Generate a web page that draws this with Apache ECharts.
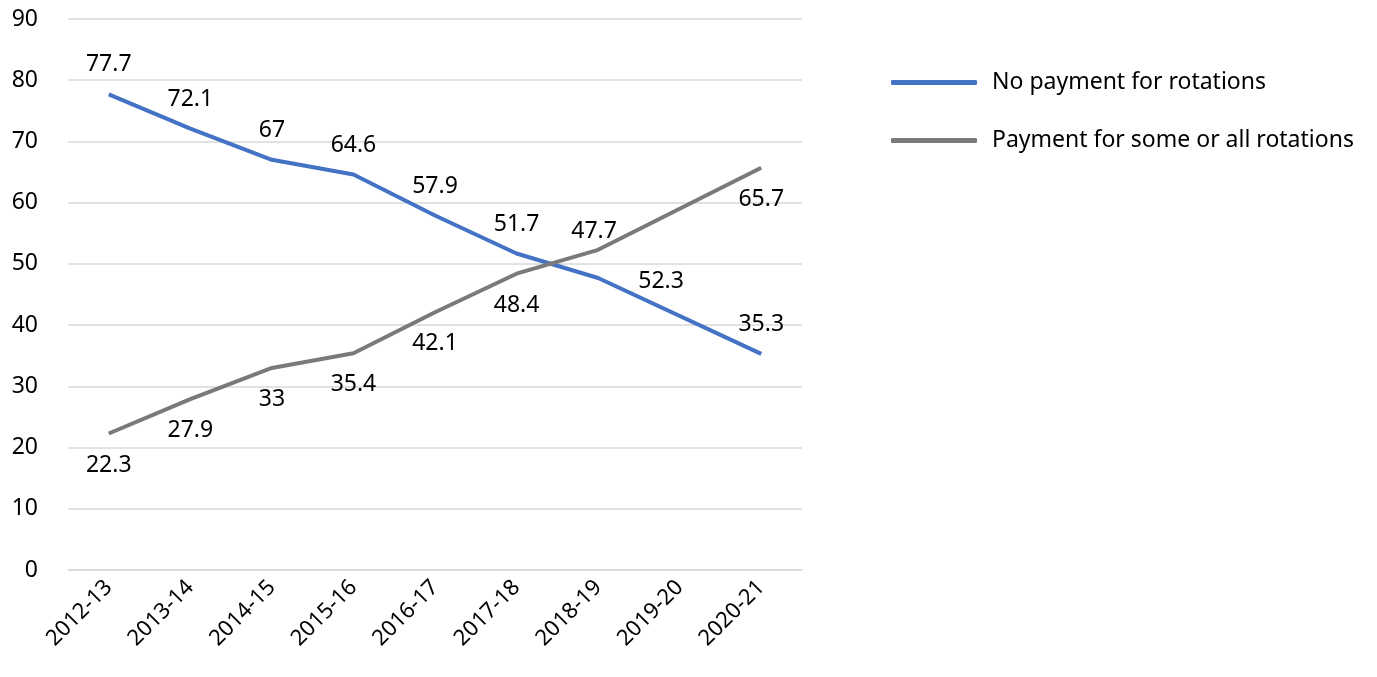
<!DOCTYPE html>
<html><head><meta charset="utf-8">
<script src="https://cdn.jsdelivr.net/npm/echarts@6/dist/echarts.min.js"></script>
<style>html,body{margin:0;padding:0;background:#fff}#c{width:1377px;height:677px}</style>
</head><body><div id="c"></div>
<script>
const categories = ['2012-13','2013-14','2014-15','2015-16','2016-17','2017-18','2018-19','2019-20','2020-21'];
const noPayment = [77.7, 72.1, 67, 64.6, 57.9, 51.7, 47.7, null, 35.3];
const payment = [22.3, 27.9, 33, 35.4, 42.1, 48.4, 52.3, null, 65.7];
const seriesNames = ['No payment for rotations', 'Payment for some or all rotations'];

const FONT = 'Noto Sans';
const FS = 23;
function withOffsets(vals, offsets) {
  return vals.map((v, i) => offsets[i] ? { value: v, label: { offset: offsets[i] } } : v);
}
const chart = echarts.init(document.getElementById('c'));
chart.setOption({
  animation: false,
  textStyle: { fontFamily: FONT },
  grid: { left: 68, right: 575, top: 19, bottom: 107, containLabel: false },
  legend: {
    orient: 'vertical', left: 886, top: 65, itemWidth: 86, itemHeight: 5, itemGap: 33,
    icon: 'roundRect',
    textStyle: { fontFamily: FONT, fontSize: FS, lineHeight: 25, color: '#000', padding: [0, 0, 0, 10] },
    data: seriesNames
  },
  xAxis: {
    type: 'category', data: categories, boundaryGap: true,
    axisLine: { show: true, lineStyle: { color: '#D9D9D9', width: 1.5 } },
    axisTick: { show: false },
    axisLabel: { rotate: 45, fontFamily: FONT, fontSize: 22, color: '#000', margin: 14 }
  },
  yAxis: {
    type: 'value', min: 0, max: 90, interval: 10,
    axisLine: { show: false }, axisTick: { show: false },
    splitLine: { lineStyle: { color: '#D9D9D9', width: 1.5 } },
    axisLabel: { fontFamily: FONT, fontSize: FS, color: '#000', margin: 30 }
  },
  series: [
    {
      name: seriesNames[0], type: 'line', data: withOffsets(noPayment, {6: [-4, -17]}),
      connectNulls: true, symbol: 'circle', symbolSize: 0, showSymbol: true, smooth: false,
      lineStyle: { color: '#4472C4', width: 4 }, itemStyle: { color: '#4472C4' },
      label: { show: true, position: 'top', distance: 18, fontFamily: FONT, fontSize: FS, color: '#000' }
    },
    {
      name: seriesNames[1], type: 'line', data: withOffsets(payment, {6: [63, 0]}),
      connectNulls: true, symbol: 'circle', symbolSize: 0, showSymbol: true, smooth: false,
      lineStyle: { color: '#7A7A7A', width: 4 }, itemStyle: { color: '#7A7A7A' },
      label: { show: true, position: 'bottom', distance: 20, fontFamily: FONT, fontSize: FS, color: '#000' }
    }
  ]
});
</script></body></html>
